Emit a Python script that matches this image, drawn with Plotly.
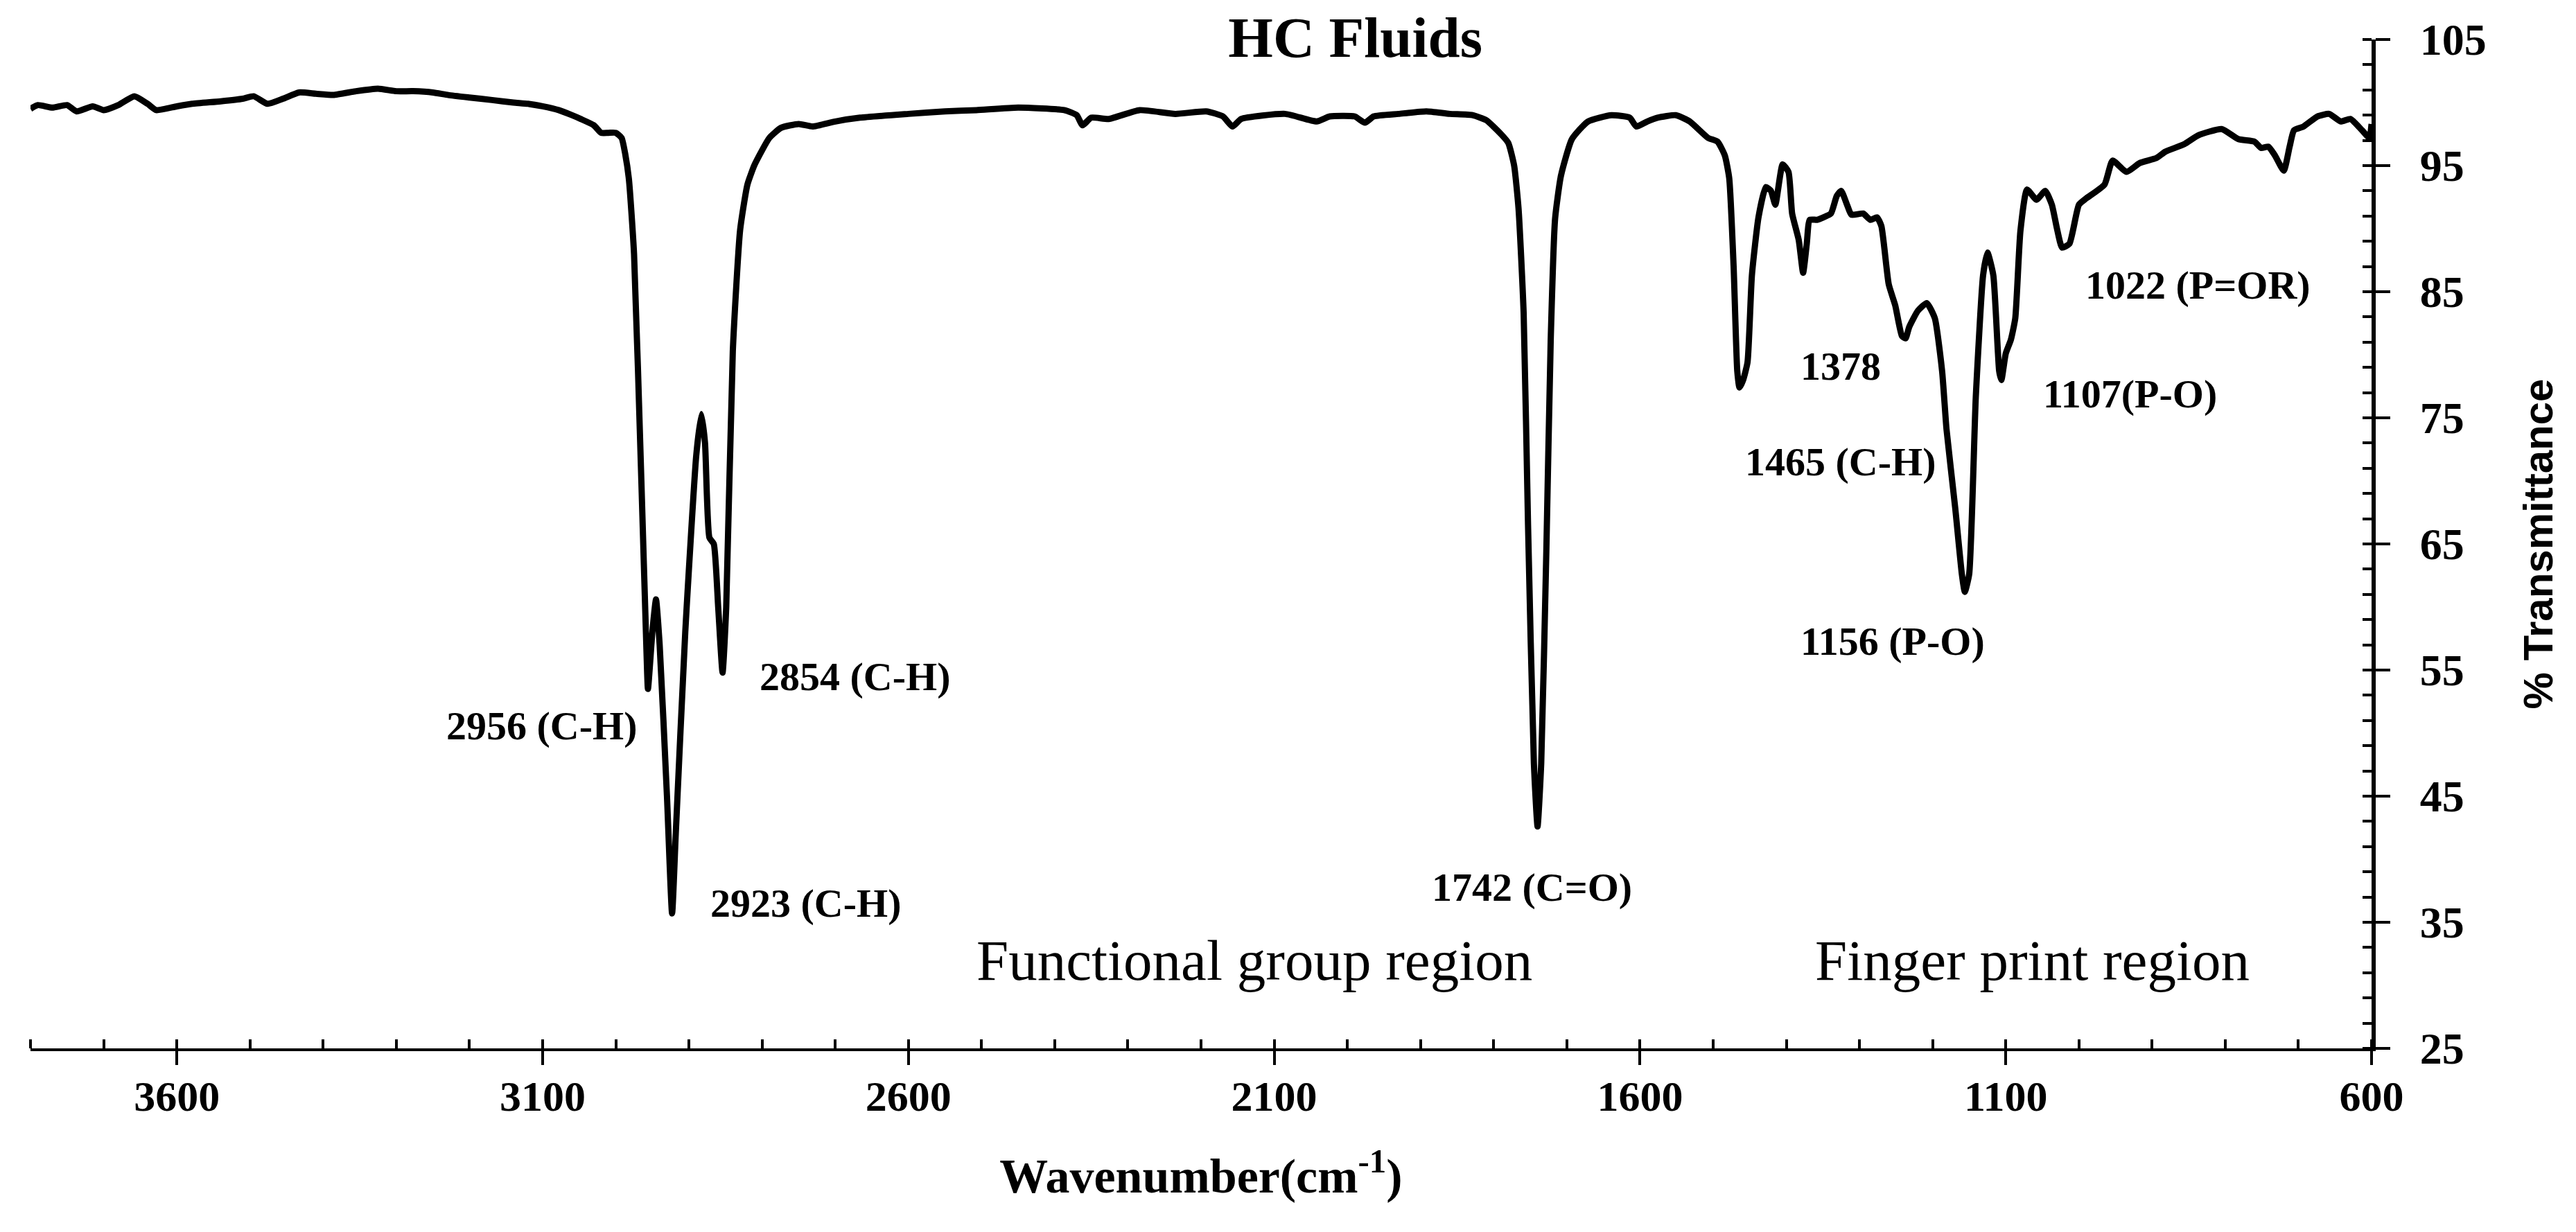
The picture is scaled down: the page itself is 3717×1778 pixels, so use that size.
import plotly.graph_objects as go

# FTIR spectrum of HC Fluids
wavenumber = [
    3800, 3790, 3770, 3750, 3737, 3715, 3700, 3680, 3658, 3640, 3628, 3600,
    3579, 3540, 3510, 3495, 3476, 3455, 3433, 3410, 3386, 3355, 3325, 3300,
    3277, 3250, 3229, 3200, 3169, 3140, 3120, 3100, 3078, 3060, 3048, 3030,
    3020, 3010, 3000, 2992, 2987, 2982, 2975, 2965, 2958, 2956, 2950, 2945,
    2940, 2930, 2923, 2918, 2905, 2890, 2883, 2878, 2872, 2866, 2860, 2854,
    2849, 2840, 2830, 2820, 2810, 2790, 2774, 2750, 2731, 2700, 2666, 2600,
    2550, 2507, 2450, 2387, 2370, 2362, 2350, 2326, 2284, 2235, 2193, 2170,
    2157, 2145, 2085, 2042, 2024, 1990, 1976, 1964, 1930, 1892, 1860, 1829,
    1810, 1790, 1780, 1772, 1766, 1759, 1753, 1745, 1740, 1735, 1728, 1722,
    1716, 1708, 1693, 1671, 1639, 1614, 1605, 1590, 1576, 1551, 1532, 1507,
    1494, 1484, 1478, 1472, 1467, 1464, 1459, 1453, 1447, 1438, 1428, 1421,
    1415, 1405, 1397, 1392, 1383, 1377, 1372, 1368, 1358, 1349, 1339, 1331,
    1325, 1317, 1311, 1295, 1285, 1276, 1270, 1260, 1251, 1242, 1237, 1232,
    1220, 1208, 1197, 1187, 1181, 1169, 1160, 1156, 1150, 1141, 1131, 1125,
    1117, 1109, 1106, 1100, 1093, 1087, 1080, 1071, 1058, 1046, 1037, 1030,
    1023, 1013, 1000, 990, 965, 954, 935, 917, 894, 882, 856, 837,
    805, 782, 760, 751, 741, 732, 720, 712, 706, 693, 674, 658,
    642, 629, 613, 603, 600,
]
transmittance = [
    99.5, 99.8, 99.6, 99.8, 99.3, 99.7, 99.4, 99.8, 100.5, 99.9, 99.4, 99.7,
    99.9, 100.1, 100.3, 100.5, 99.9, 100.3, 100.8, 100.7, 100.6, 100.9, 101.1, 100.9,
    100.9, 100.8, 100.6, 100.4, 100.2, 100.0, 99.9, 99.7, 99.4, 99.0, 98.7, 98.2,
    97.6, 97.6, 97.6, 97.2, 95.9, 93.9, 88.0, 70.0, 56.5, 53.5, 58.0, 60.6,
    57.0, 45.0, 35.7, 42.0, 58.0, 72.0, 75.3, 73.0, 65.5, 65.0, 60.0, 54.8,
    60.0, 80.3, 89.9, 93.5, 95.1, 97.2, 98.0, 98.3, 98.1, 98.5, 98.8, 99.1,
    99.3, 99.4, 99.6, 99.4, 99.0, 98.2, 98.8, 98.7, 99.4, 99.1, 99.3, 98.9,
    98.1, 98.7, 99.1, 98.5, 98.9, 98.9, 98.4, 98.9, 99.1, 99.3, 99.1, 99.0,
    98.6, 97.5, 96.8, 95.0, 91.6, 83.3, 66.5, 47.6, 42.6, 47.6, 64.4, 81.2,
    90.8, 94.2, 97.1, 98.5, 99.0, 98.8, 98.1, 98.5, 98.8, 99.0, 98.5, 97.2,
    96.9, 95.8, 94.0, 87.0, 78.7, 77.4, 78.0, 79.4, 86.3, 90.9, 93.3, 93.0,
    91.9, 95.1, 94.5, 91.2, 89.1, 86.5, 88.8, 90.7, 90.7, 90.9, 91.2, 92.6,
    93.0, 91.9, 91.1, 91.2, 90.7, 90.9, 90.2, 85.6, 83.9, 81.5, 81.3, 82.2,
    83.5, 84.1, 82.9, 78.7, 74.1, 67.8, 62.6, 61.2, 62.6, 76.6, 86.3, 88.1,
    86.3, 78.7, 78.0, 80.1, 81.2, 82.9, 89.8, 93.1, 92.3, 93.0, 91.9, 90.0,
    88.5, 88.8, 91.9, 92.4, 93.5, 95.4, 94.5, 95.2, 95.6, 96.1, 96.7, 97.4,
    97.9, 97.1, 96.9, 96.4, 96.5, 95.8, 94.6, 96.5, 97.8, 98.1, 98.9, 99.1,
    98.5, 98.7, 97.8, 97.2, 98.3,
]

x_major = [3600, 3100, 2600, 2100, 1600, 1100, 600]
y_major = [25, 35, 45, 55, 65, 75, 85, 95, 105]

# peak labels: text, x, y (data coords)
peak_labels = [
    ("2956 (C-H)", 3101, 50.6),
    ("2923 (C-H)", 2740, 36.5),
    ("2854 (C-H)", 2673, 54.5),
    ("1742 (C=O)", 1748, 37.8),
    ("1378", 1326, 79.1),
    ("1465 (C-H)", 1326, 71.5),
    ("1156 (P-O)", 1255, 57.3),
    ("1107(P-O)", 930, 76.9),
    ("1022 (P=OR)", 837, 85.5),
]
region_labels = [
    ("Functional group region", 2127, 32.0),
    ("Finger print region", 1064, 32.0),
]

SERIF = "Liberation Serif, Times New Roman, serif"

fig = go.Figure()
fig.add_trace(go.Scatter(
    x=wavenumber, y=transmittance, mode="lines",
    line=dict(color="black", width=9, shape="spline", smoothing=0.5),
    showlegend=False, hoverinfo="skip",
))
# helper trace so the overlay axes (inner half of the major ticks) get drawn
fig.add_trace(go.Scatter(
    x=wavenumber[:1], y=transmittance[:1], xaxis="x2", yaxis="y2",
    mode="markers", marker=dict(opacity=0), showlegend=False, hoverinfo="skip",
))

for text, x, y in peak_labels:
    fig.add_annotation(x=x, y=y, text=text, showarrow=False,
                       font=dict(family=SERIF, size=58, color="black", weight="bold"))
for text, x, y in region_labels:
    fig.add_annotation(x=x, y=y, text=text, showarrow=False,
                       font=dict(family=SERIF, size=83, color="black"))

fig.update_layout(
    width=3717, height=1778,
    margin=dict(l=36, r=303, t=49, b=273),
    paper_bgcolor="white", plot_bgcolor="white",
    title=dict(text="HC Fluids", x=0.524, y=0.975, xanchor="center", yanchor="middle",
               font=dict(family=SERIF, size=83, color="black", weight="bold")),
    xaxis=dict(
        range=[3800, 600], tickvals=x_major, ticks="outside", ticklen=20, tickwidth=4,
        tickcolor="black", showline=True, linewidth=4, linecolor="black",
        showgrid=False, zeroline=False, mirror=False, ticklabelstandoff=-8,
        minor=dict(dtick=100, tick0=600, ticks="inside", ticklen=13, tickwidth=4, tickcolor="black"),
        tickfont=dict(family=SERIF, size=62, color="black", weight="bold"),
        title=dict(text="Wavenumber(cm<sup>-1</sup>)", standoff=58,
                   font=dict(family=SERIF, size=70, color="black", weight="bold")),
    ),
    yaxis=dict(
        range=[25, 105], tickvals=y_major, side="right", ticks="outside", ticklen=21,
        tickwidth=4, tickcolor="black", showline=True, linewidth=6, linecolor="black",
        showgrid=False, zeroline=False, mirror=False, ticklabelstandoff=30,
        minor=dict(dtick=2, tick0=25, ticks="inside", ticklen=13, tickwidth=4, tickcolor="black"),
        tickfont=dict(family=SERIF, size=64, color="black", weight="bold"),
        title=dict(text="% Transmittance", standoff=56,
                   font=dict(family="Liberation Sans, Arial, sans-serif", size=60,
                             color="black", weight="bold")),
    ),
    xaxis2=dict(
        overlaying="x", anchor="y2", side="bottom", range=[3800, 600], tickvals=x_major,
        ticks="inside", ticklen=13, tickwidth=4, tickcolor="black", showticklabels=False,
        showline=False, showgrid=False, zeroline=False,
    ),
    yaxis2=dict(
        overlaying="y", anchor="x2", side="right", range=[25, 105], tickvals=y_major,
        ticks="inside", ticklen=13, tickwidth=4, tickcolor="black", showticklabels=False,
        showline=False, showgrid=False, zeroline=False,
    ),
)

fig.write_html("out.html")
